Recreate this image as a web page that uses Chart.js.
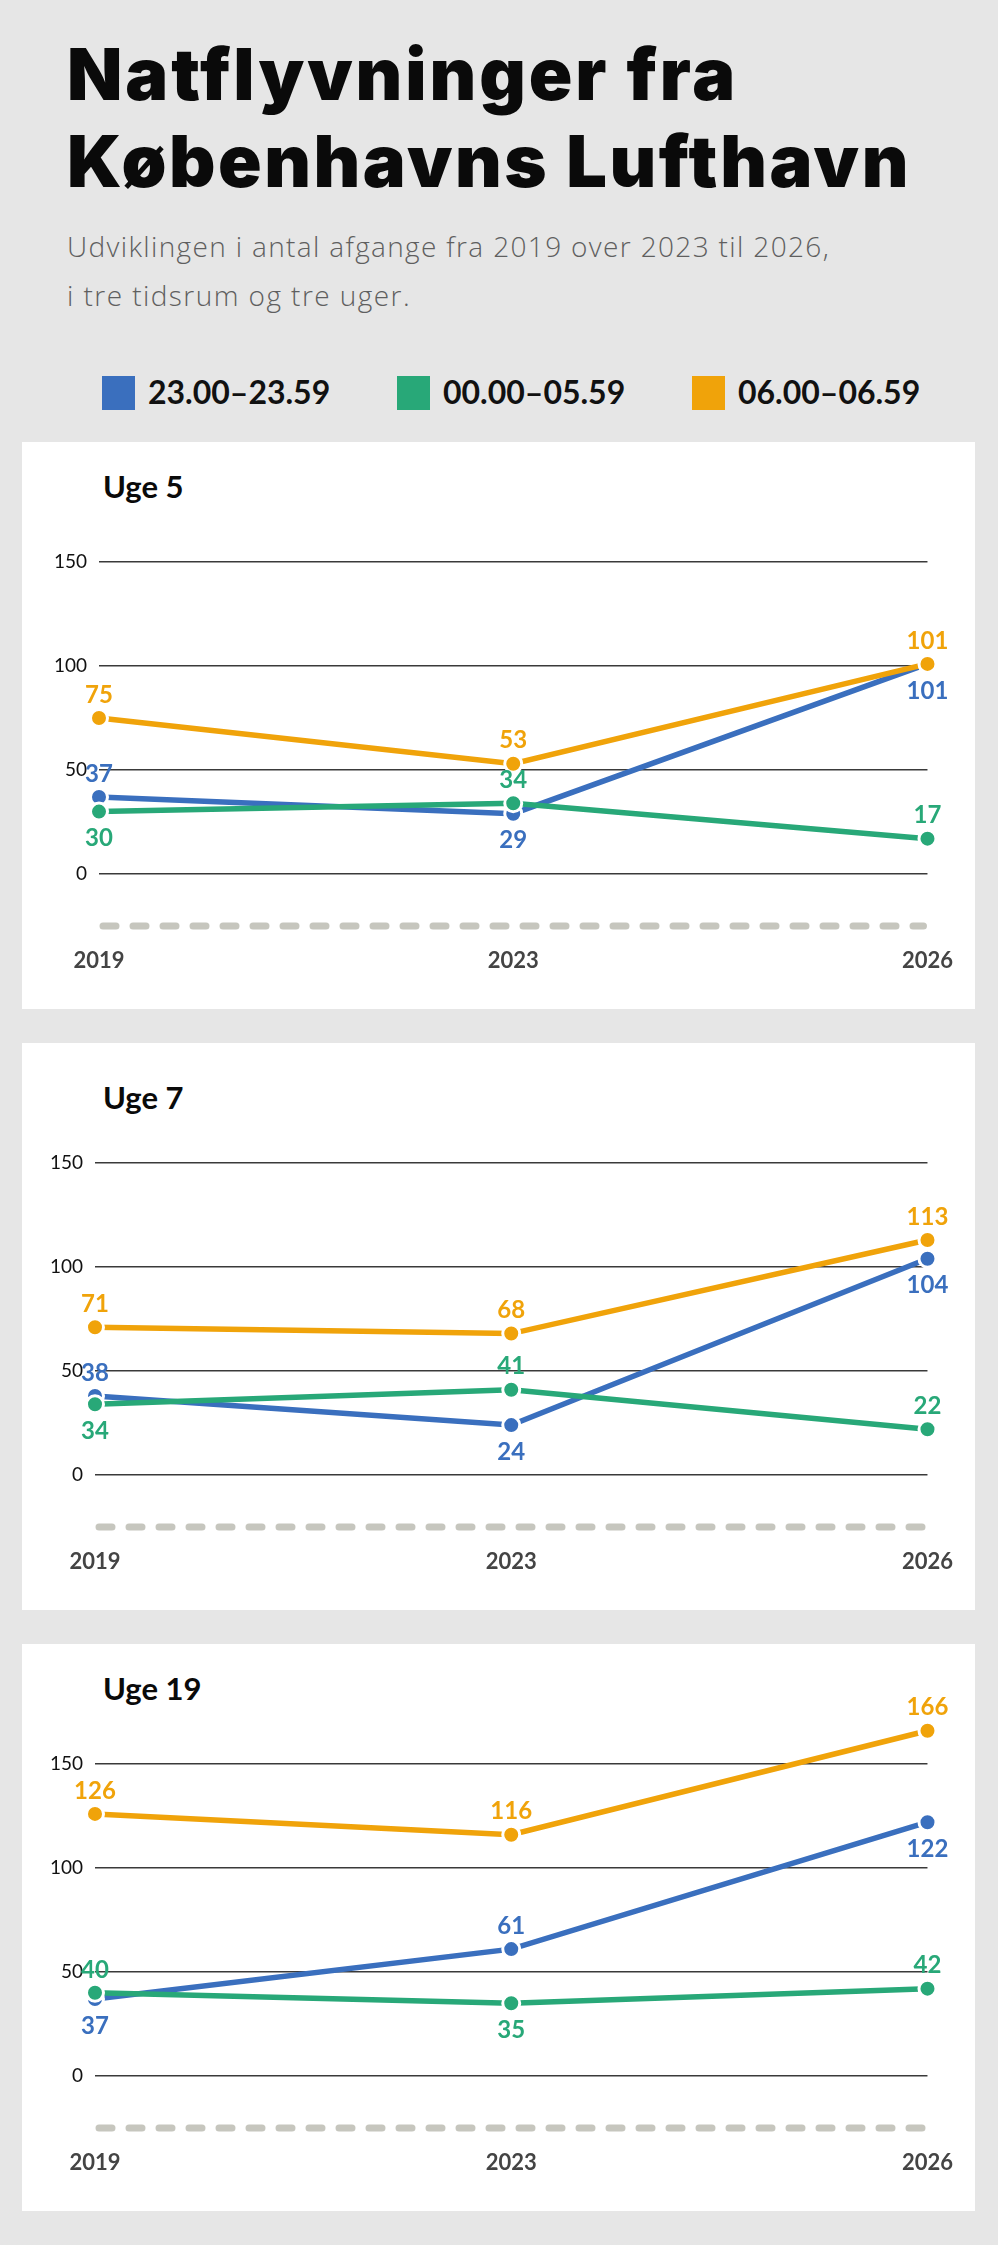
<!DOCTYPE html>
<html lang="da">
<head>
<meta charset="utf-8">
<title>Natflyvninger fra Københavns Lufthavn</title>
<script src="https://cdn.jsdelivr.net/npm/chart.js@4.4.1/dist/chart.umd.min.js"></script>
<style>
  html, body { margin: 0; padding: 0; }
  body {
    width: 998px; height: 2245px; position: relative; overflow: hidden;
    background: #e6e6e6; font-family: Lato, "Noto Sans", sans-serif; color: #111;
  }
  h1 {
    position: absolute; left: 67px; top: 30px; margin: 0;
    font: 900 72px/87px Inter, Roboto, sans-serif; color: #0a0a0a; white-space: nowrap;
  }
  .sub {
    position: absolute; left: 67px; top: 222px; margin: 0;
    font: 300 28px/49px "Open Sans", Lato, sans-serif; color: #5f5f5f; white-space: nowrap;
  }
  .fit { display: inline-block; }
  .legend { position: absolute; top: 376px; left: 0; }
  .legend .sw { position: absolute; top: 0; width: 33px; height: 34px; }
  .legend .lb {
    position: absolute; top: -4px; font: 700 32px/40px Lato, sans-serif; color: #111; white-space: nowrap;
  }
  .card { position: absolute; left: 22px; width: 953px; height: 567px; background: #fff; }
  .card h2 {
    position: absolute; left: 81px; margin: 0;
    font: 700 31px/31px Lato, sans-serif; color: #0a0a0a;
  }
  .card canvas { position: absolute; left: 0; top: 0; }
</style>
</head>
<body>
<h1><span class="fit" data-w="671">Natflyvninger fra</span><br><span class="fit" data-w="844">Københavns Lufthavn</span></h1>
<p class="sub"><span class="fit" data-w="763">Udviklingen i antal afgange fra 2019 over 2023 til 2026,</span><br><span class="fit" data-w="344">i tre tidsrum og tre uger.</span></p>
<div class="legend" id="legend"></div>

<div class="card" style="top:442px"><h2 style="top:29px">Uge 5</h2><canvas id="c0" width="953" height="567"></canvas></div>
<div class="card" style="top:1043px"><h2 style="top:39px">Uge 7</h2><canvas id="c1" width="953" height="567"></canvas></div>
<div class="card" style="top:1644px"><h2 style="top:29px">Uge 19</h2><canvas id="c2" width="953" height="567"></canvas></div>

<script>
const years = ['2019', '2023', '2026'];
const seriesNames = ['23.00–23.59', '00.00–05.59', '06.00–06.59'];
const weeks = ['Uge 5', 'Uge 7', 'Uge 19'];
const yTicks = [0, 50, 100, 150];

// antal afgange pr. tidsrum
const uge5Late = [37, 29, 101];
const uge5Night = [30, 34, 17];
const uge5Early = [75, 53, 101];

const uge7Late = [38, 24, 104];
const uge7Night = [34, 41, 22];
const uge7Early = [71, 68, 113];

const uge19Late = [37, 61, 122];
const uge19Night = [40, 35, 42];
const uge19Early = [126, 116, 166];

const colors = ['#3a6fbe', '#28a878', '#f0a30a'];

// 1 = value label above the point, -1 = below
const labelSide = [
  [[1, -1, -1], [-1, 1, 1], [1, 1, 1]],
  [[1, -1, -1], [-1, 1, 1], [1, 1, 1]],
  [[-1, 1, -1], [1, -1, 1], [1, 1, 1]]
];
// chart area left edge / right padding inside each card
const insets = [[77, 37], [73, 42], [73, 42]];

const panels = [
  [uge5Late, uge5Night, uge5Early],
  [uge7Late, uge7Night, uge7Early],
  [uge19Late, uge19Night, uge19Early]
];

// stretch headline lines to the widths in the print version
document.querySelectorAll('.fit').forEach(el => {
  const w = el.getBoundingClientRect().width;
  const n = el.textContent.length;
  el.style.letterSpacing = ((+el.dataset.w - w) / n) + 'px';
});

// legend
const legendEl = document.getElementById('legend');
const legendX = [102, 397, 692];
seriesNames.forEach((name, i) => {
  const sw = document.createElement('div');
  sw.className = 'sw';
  sw.style.left = legendX[i] + 'px';
  sw.style.background = colors[i];
  const lb = document.createElement('div');
  lb.className = 'lb';
  lb.style.left = (legendX[i] + 46) + 'px';
  lb.textContent = name;
  legendEl.appendChild(sw);
  legendEl.appendChild(lb);
});

const valueLabels = {
  id: 'valueLabels',
  afterDatasetsDraw(chart, args, opts) {
    const ctx = chart.ctx;
    ctx.save();
    ctx.font = 'bold 24px Lato, sans-serif';
    ctx.textAlign = 'center';
    ctx.textBaseline = 'middle';
    chart.data.datasets.forEach((ds, di) => {
      const meta = chart.getDatasetMeta(di);
      meta.data.forEach((pt, i) => {
        const side = opts.sides[di][i];
        ctx.fillStyle = ds.borderColor;
        ctx.fillText(String(ds.data[i]), pt.x, pt.y + (side > 0 ? -23 : 27));
      });
    });
    ctx.restore();
  }
};

// dashed base line under the zero line
const dashedBase = {
  id: 'dashedBase',
  beforeDatasetsDraw(chart) {
    const { ctx, chartArea } = chart;
    ctx.save();
    ctx.strokeStyle = '#c6c6be';
    ctx.lineWidth = 7;
    ctx.lineCap = 'round';
    ctx.setLineDash([13, 17]);
    ctx.beginPath();
    ctx.moveTo(chartArea.left + 4, chartArea.bottom);
    ctx.lineTo(chartArea.right - 4, chartArea.bottom);
    ctx.stroke();
    ctx.restore();
  }
};

panels.forEach((series, p) => {
  const datasets = series.map((vals, s) => ({
    label: seriesNames[s],
    data: vals,
    borderColor: colors[s],
    backgroundColor: colors[s],
    pointBackgroundColor: colors[s],
    pointBorderColor: '#ffffff',
    pointBorderWidth: 3,
    pointRadius: 8.5,
    borderWidth: 5.5,
    tension: 0,
    order: 2 - s
  }));

  new Chart(document.getElementById('c' + p), {
    type: 'line',
    data: { labels: years, datasets: datasets },
    plugins: [dashedBase, valueLabels],
    options: {
      responsive: false,
      animation: false,
      events: [],
      layout: { padding: { top: 68, right: insets[p][1], bottom: 0, left: 0 } },
      plugins: {
        legend: { display: false },
        tooltip: { enabled: false },
        title: { display: false },
        valueLabels: { sides: labelSide[p] }
      },
      scales: {
        x: {
          offset: false,
          grid: { display: false, drawTicks: false },
          border: { display: false },
          ticks: {
            padding: 22, maxRotation: 0, color: '#444',
            font: { family: 'Lato', size: 22, weight: 'bold' }
          },
          afterFit: s => { s.height = 83; }
        },
        y: {
          min: -25,
          max: 175,
          afterBuildTicks: s => { s.ticks = yTicks.map(v => ({ value: v })); },
          grid: { color: '#3a3a3a', lineWidth: 1.5, drawTicks: false },
          border: { display: false },
          ticks: {
            padding: 12, color: '#111',
            font: { family: 'Lato', size: 19 }
          },
          afterFit: s => { s.width = insets[p][0]; }
        }
      }
    }
  });
});
</script>
</body>
</html>
